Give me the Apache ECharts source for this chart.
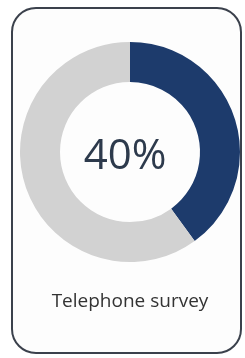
<!DOCTYPE html>
<html>
<head>
<meta charset="utf-8">
<script src="https://cdn.jsdelivr.net/npm/echarts@6/dist/echarts.min.js"></script>
<style>
  html, body { margin: 0; padding: 0; background: #ffffff; }
  #chart { width: 245px; height: 358px; }
</style>
</head>
<body>
<div id="chart"></div>
<script>
// data
const segmentNames = ["Telephone survey", "Rest"];
const segmentValues = [40, 60];
const segmentColors = ["#1d3b6c", "#d2d2d2"];
const centerLabel = "40%";
const captionText = "Telephone survey";

const chart = echarts.init(document.getElementById("chart"));

const option = {
  animation: false,
  backgroundColor: "#ffffff",
  graphic: [
    {
      type: "rect",
      shape: { x: 12, y: 8, width: 229, height: 345, r: 24 },
      style: { fill: "#fdfdfd", stroke: "#3b414c", lineWidth: 2 },
      z: 0,
    },
    {
      type: "text",
      x: 130,
      y: 302,
      style: {
        text: captionText,
        font: "19px 'Open Sans', sans-serif",
        fill: "#333333",
        align: "center",
        verticalAlign: "middle",
      },
      z: 10,
    },
  ],
  series: [
    {
      type: "pie",
      center: [130, 152],
      radius: [70, 110],
      startAngle: 90,
      clockwise: true,
      silent: true,
      label: {
        show: true,
        position: "center",
        formatter: () => centerLabel,
        fontFamily: "'Open Sans', sans-serif",
        fontSize: 42,
        color: "#2d3a4c",
        offset: [-5, 5],
      },
      labelLine: { show: false },
      data: segmentNames.map((name, i) => ({
        name: name,
        value: segmentValues[i],
        itemStyle: { color: segmentColors[i] },
        label: { show: i === 0 },
      })),
      z: 5,
    },
  ],
};

chart.setOption(option);
</script>
</body>
</html>
